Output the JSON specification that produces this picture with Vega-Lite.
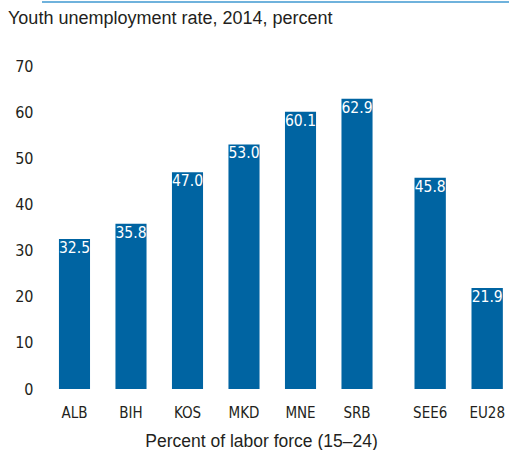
{
  "$schema": "https://vega.github.io/schema/vega-lite/v6.json",
  "padding": {"left": 8, "top": 1, "right": 0, "bottom": 0},
  "autosize": {"type": "pad"},
  "config": {
    "view": {"stroke": null},
    "font": "Liberation Sans",
    "axis": {"labelColor": "#231f20", "titleColor": "#231f20"}
  },
  "datasets": {
    "rates": [
      {"name": "ALB", "group": "country", "value": 32.5},
      {"name": "BIH", "group": "country", "value": 35.8},
      {"name": "KOS", "group": "country", "value": 47.0},
      {"name": "MKD", "group": "country", "value": 53.0},
      {"name": "MNE", "group": "country", "value": 60.1},
      {"name": "SRB", "group": "country", "value": 62.9},
      {"name": "SEE6", "group": "aggregate", "value": 45.8},
      {"name": "EU28", "group": "aggregate", "value": 21.9}
    ]
  },
  "spacing": 7,
  "vconcat": [
    {
      "width": 501,
      "height": 1,
      "data": {"values": [{"v": 1}]},
      "mark": {"type": "rule", "color": "#6fb2dc", "strokeWidth": 2},
      "encoding": {
        "y": {"field": "v", "type": "quantitative", "axis": null, "scale": {"domain": [0, 1]}}
      }
    },
    {
      "title": {
        "text": "Youth unemployment rate, 2014, percent",
        "anchor": "start",
        "frame": "bounds",
        "fontSize": 18,
        "fontWeight": "normal",
        "font": "Liberation Sans",
        "color": "#231f20",
        "offset": 30
      },
      "spacing": 18.8,
      "data": {"name": "rates"},
      "hconcat": [
        {
          "width": 347.5,
          "height": 323,
          "transform": [{"filter": "datum.group === 'country'"}],
          "encoding": {
            "x": {
              "field": "name", "type": "nominal", "sort": null,
              "scale": {"paddingInner": 0.45, "paddingOuter": 0.3},
              "axis": {
                "title": "Percent of labor force (15–24)",
                "titleFont": "Liberation Sans", "titleFontSize": 17.5, "titleFontWeight": "normal",
                "titlePadding": 12, "titleX": 219, "titleAlign": "center",
                "labelAngle": 0, "labelFont": "DejaVu Sans Condensed, Roboto, sans-serif", "labelFontSize": 15,
                "ticks": false, "tickSize": 0, "domain": false, "labelPadding": 16
              }
            },
            "y": {
              "field": "value", "type": "quantitative",
              "scale": {"domain": [0, 70]},
              "axis": {
                "title": null, "values": [0, 10, 20, 30, 40, 50, 60, 70],
                "grid": false, "domain": false, "ticks": false, "tickSize": 0,
                "labelPadding": 9, "labelFont": "DejaVu Sans Condensed, Roboto, sans-serif", "labelFontSize": 16,
                "minExtent": 34
              }
            }
          },
          "layer": [
            {"mark": {"type": "bar", "color": "#0064a2"}},
            {
              "mark": {"type": "text", "baseline": "top", "dy": 2, "color": "white", "font": "DejaVu Sans Condensed, Roboto, sans-serif", "fontSize": 15.5},
              "encoding": {"text": {"field": "value", "type": "quantitative", "format": ".1f"}}
            }
          ]
        },
        {
          "width": 99.75,
          "height": 323,
          "transform": [{"filter": "datum.group === 'aggregate'"}],
          "encoding": {
            "x": {
              "field": "name", "type": "nominal", "sort": null,
              "scale": {"paddingInner": 0.45, "paddingOuter": 0.1},
              "axis": {
                "title": null,
                "labelAngle": 0, "labelFont": "DejaVu Sans Condensed, Roboto, sans-serif", "labelFontSize": 15,
                "ticks": false, "tickSize": 0, "domain": false, "labelPadding": 16
              }
            },
            "y": {
              "field": "value", "type": "quantitative",
              "scale": {"domain": [0, 70]},
              "axis": null
            }
          },
          "layer": [
            {"mark": {"type": "bar", "color": "#0064a2"}},
            {
              "mark": {"type": "text", "baseline": "top", "dy": 2, "color": "white", "font": "DejaVu Sans Condensed, Roboto, sans-serif", "fontSize": 15.5},
              "encoding": {"text": {"field": "value", "type": "quantitative", "format": ".1f"}}
            }
          ]
        }
      ]
    }
  ]
}
